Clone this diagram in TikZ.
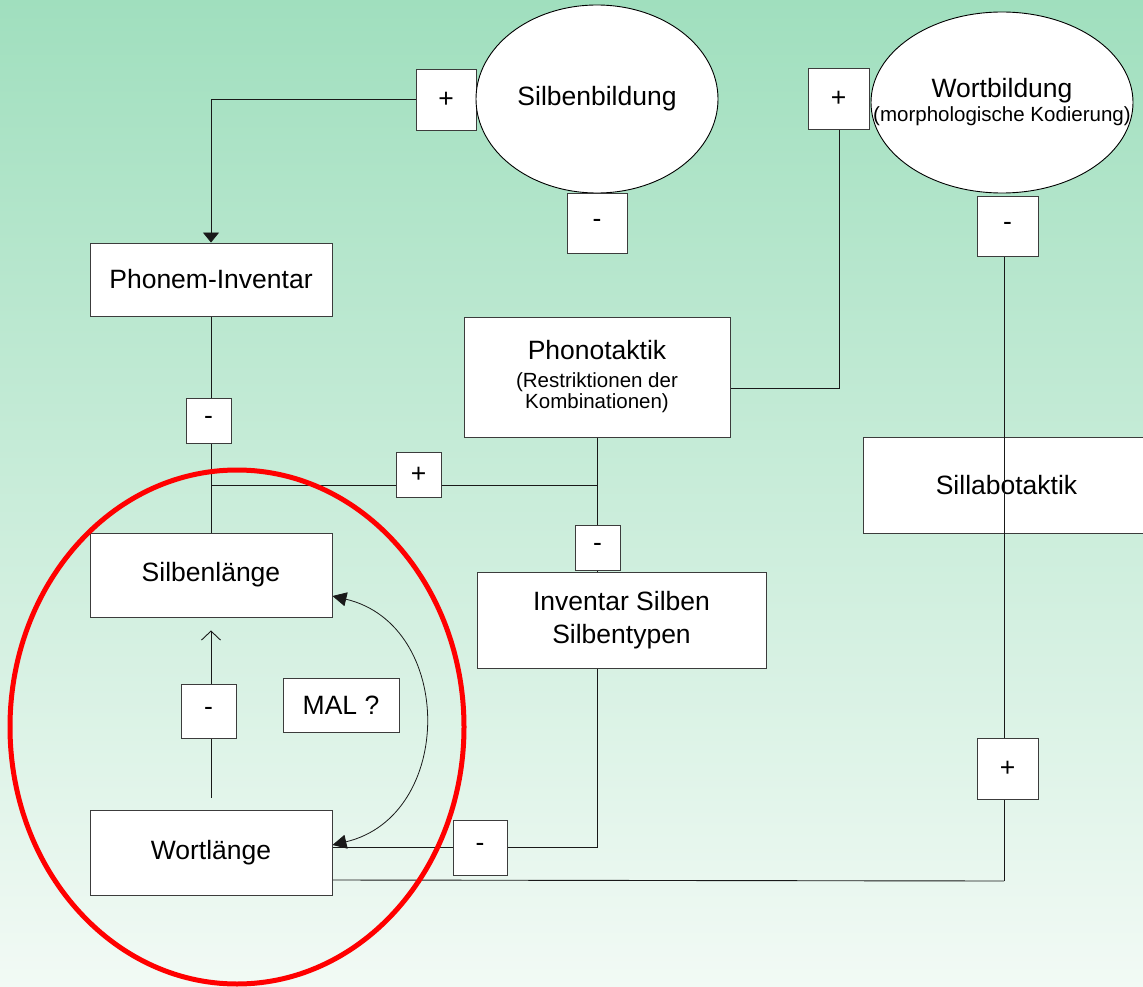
\documentclass[tikz,border=0pt]{standalone}
\usepackage{fontspec}
\setmainfont{Liberation Sans}
\usetikzlibrary{shapes.geometric,arrows.meta}
\pgfdeclarelayer{back}
\pgfdeclarelayer{under}
\pgfdeclarelayer{lines}
\pgfsetlayers{back,under,lines,main}
\newcommand\mainsz{\fontsize{26.5}{33}\selectfont}
\newcommand\smallsz{\fontsize{20.5}{21}\selectfont}
\definecolor{bgtop}{RGB}{160,223,190}
\definecolor{bgbot}{RGB}{242,250,245}
\definecolor{edge}{RGB}{60,60,60}
\tikzset{
  box/.style={draw=edge, fill=white, line width=0.9pt, rectangle, inner sep=0pt, align=center, font=\mainsz},
  oval/.style={draw=black, fill=white, line width=0.9pt, ellipse, inner sep=0pt, align=center, font=\mainsz},
  sign/.style={box},
  conn/.style={draw=black!90, line width=0.9pt},
  ring/.style={draw=red, line width=5pt, ellipse, inner sep=0pt}
}
\begin{document}
\begin{tikzpicture}[x=1pt,y=-1pt]
\useasboundingbox (0,0) rectangle (1143,987);
\begin{pgfonlayer}{back}
\shade[top color=bgtop, bottom color=bgbot] (0,0) rectangle (1143,987);
\end{pgfonlayer}

% nodes
\node[sign, minimum width=60pt, minimum height=61pt] (plusA) at (446,99.5) {+};
\node[oval, minimum width=242pt, minimum height=188pt] (silb) at (597,99) {Silbenbildung};
\node[sign, minimum width=60pt, minimum height=60pt] (minusA) at (597,223) {-};
\node[sign, minimum width=61pt, minimum height=61pt] (plusB) at (838.5,98.5) {+};
\node[oval, minimum width=262pt, minimum height=181pt, font=\smallsz] (wort) at (1002,102.5) {{\mainsz Wortbildung}\\[3pt]\makebox[0pt]{(morphologische Kodierung)}};
\node[sign, minimum width=61pt, minimum height=60pt] (minusB) at (1007.5,226) {-};
\node[box, minimum width=242pt, minimum height=73pt] (phon) at (211,279.5) {Phonem-Inventar};
\node[sign, minimum width=45pt, minimum height=45pt] (minusC) at (208.5,420.5) {-};
\node[box, minimum width=266pt, minimum height=120pt, font=\smallsz] (phonot) at (597,377) {{\mainsz Phonotaktik}\\[7pt](Restriktionen der\\Kombinationen)};
\node[sign, minimum width=45pt, minimum height=45pt] (plusC) at (418.5,474.5) {+};
\node[sign, minimum width=45pt, minimum height=45pt] (minusD) at (597.5,547.5) {-};
\node[box, minimum width=242pt, minimum height=84pt] (silbl) at (211,575) {\raisebox{-3pt}{Silbenlänge}};
\node[box, minimum width=289pt, minimum height=96pt] (inv) at (621.5,620) {Inventar Silben\\Silbentypen};
\begin{pgfonlayer}{under}
\node[box, minimum width=287pt, minimum height=96pt] (sillab) at (1006.5,485) {Sillabotaktik};
\end{pgfonlayer}
\node[sign, minimum width=55pt, minimum height=54pt] (minusE) at (208.5,711) {-};
\node[box, minimum width=116pt, minimum height=54pt] (mal) at (341,705) {MAL ?};
\node[box, minimum width=242pt, minimum height=85pt] (wortl) at (211,852.5) {Wortlänge};
\node[sign, minimum width=54pt, minimum height=55pt] (minusF) at (480,847.5) {-};
\node[sign, minimum width=61pt, minimum height=61pt] (plusD) at (1007.5,768.5) {+};

\coordinate (jl) at (211,485);
\coordinate (jr) at (597,485);
\coordinate (rc) at (1004,881);

\begin{pgfonlayer}{lines}
\draw[conn, -{Triangle[length=10pt,width=16pt]}] (plusA.west) -| (phon.north);
\draw[conn] (phon.south) -- (silbl.north);
\draw[conn] (jl) -- (jr);
\draw[conn] (phonot.south) -- (inv.north -| phonot.south);
\draw[conn] (inv.south -| phonot.south) |- ([yshift=5.5pt]wortl.east);
\draw[conn] (plusB.south -| 839,0) |- ([yshift=-11pt]phonot.east);
\draw[conn] ([yshift=-27.5pt]wortl.east) -- (rc);
\draw[conn, -{Straight Barb[length=9pt,width=19pt]}] ([yshift=12pt]wortl.north) -- ([yshift=-13pt]silbl.south);
\draw[conn, line width=0.8pt, {Triangle[length=14pt,width=14pt]}-{Triangle[length=14pt,width=14pt]}]
  ([yshift=-21pt]silbl.east) .. controls (455,625) and (455,816) .. ([yshift=7.5pt]wortl.east);
\draw[conn] (minusB.south -| rc) -- (rc);
\end{pgfonlayer}

\node[ring, minimum width=454pt, minimum height=514pt] (redring) at (237,727) {};
\end{tikzpicture}
\end{document}
